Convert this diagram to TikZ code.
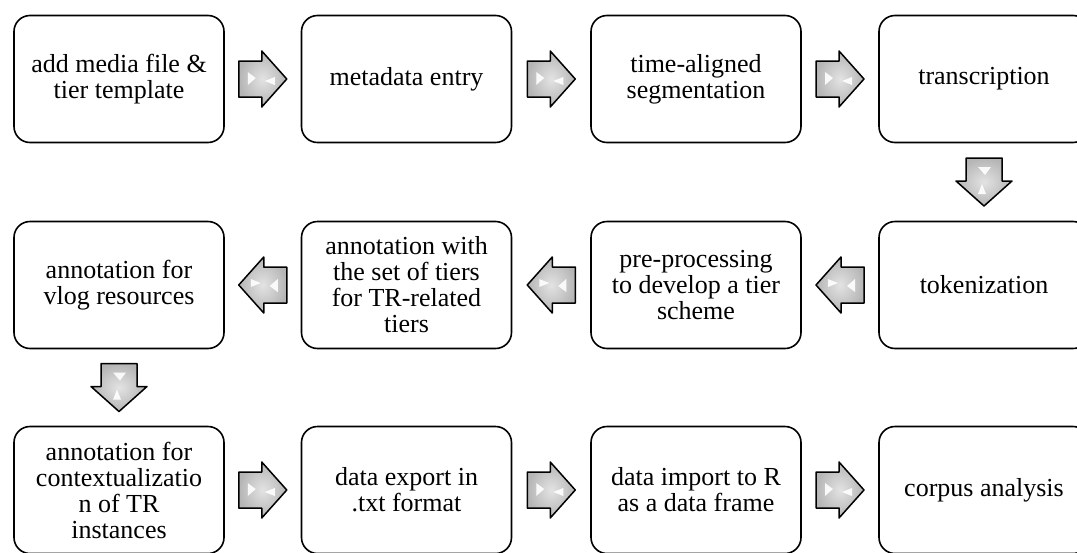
\documentclass[tikz,border=0pt]{standalone}
\usepackage{fontspec}
\setmainfont{Liberation Serif}
\usetikzlibrary{calc}
\begin{document}
\begin{tikzpicture}[x=1pt,y=-1pt,
  box/.style={draw, line width=1.6pt, rounded corners=16pt, minimum width=210pt,
    minimum height=127pt, align=center, inner sep=2pt,
    font=\fontsize{26}{26}\selectfont},
  barrow/.pic={
    \shadedraw[draw=black, line width=1.5pt, line join=round, inner color=gray!22, outer color=gray!58]
      (-24,-18) -- (-1,-18) -- (-1,-28) -- (24,0) -- (-1,28) -- (-1,18) -- (-24,18) -- cycle;
    \fill[white, opacity=0.9] (-15,-7) -- (-7,-1) -- (-15,6) -- cycle;
    \fill[white, opacity=0.9] (2,2) -- (12,-2) -- (12,6) -- cycle;
  }]
\useasboundingbox (0,0) rectangle (1077,552);
\clip (0,0) rectangle (1077,552);
% row 1
\node[box] (b1) at (119,79) {add media file \&\\tier template};
\node[box] (b2) at (406.5,79) {metadata entry};
\node[box] (b3) at (696,79) {time-aligned\\segmentation};
\node[box] (b4) at (984,79) {transcription};
% row 2
\node[box] (c1) at (119,285) {annotation for\\vlog resources};
\node[box] (c2) at (406.5,285) {annotation with\\the set of tiers\\for TR-related\\tiers};
\node[box] (c3) at (696,285) {pre-processing\\to develop a tier\\scheme};
\node[box] (c4) at (984,285) {tokenization};
% row 3
\node[box] (d1) at (119,490) {annotation for\\contextualizatio\\n of TR\\instances};
\node[box] (d2) at (406.5,490) {data export in\\.txt format};
\node[box] (d3) at (696,490) {data import to R\\as a data frame};
\node[box] (d4) at (984,490) {corpus analysis};
% arrows
\pic at ($(b1.east)!0.5!(b2.west)$) {barrow};
\pic at ($(b2.east)!0.5!(b3.west)$) {barrow};
\pic at ($(b3.east)!0.5!(b4.west)$) {barrow};
\pic[rotate=-90] at ($(b4.south)!0.5!(c4.north)$) {barrow};
\pic[rotate=180] at ($(c4.west)!0.5!(c3.east)$) {barrow};
\pic[rotate=180] at ($(c3.west)!0.5!(c2.east)$) {barrow};
\pic[rotate=180] at ($(c2.west)!0.5!(c1.east)$) {barrow};
\pic[rotate=-90] at ($(c1.south)!0.5!(d1.north)$) {barrow};
\pic at ($(d1.east)!0.5!(d2.west)$) {barrow};
\pic at ($(d2.east)!0.5!(d3.west)$) {barrow};
\pic at ($(d3.east)!0.5!(d4.west)$) {barrow};
\end{tikzpicture}
\end{document}
